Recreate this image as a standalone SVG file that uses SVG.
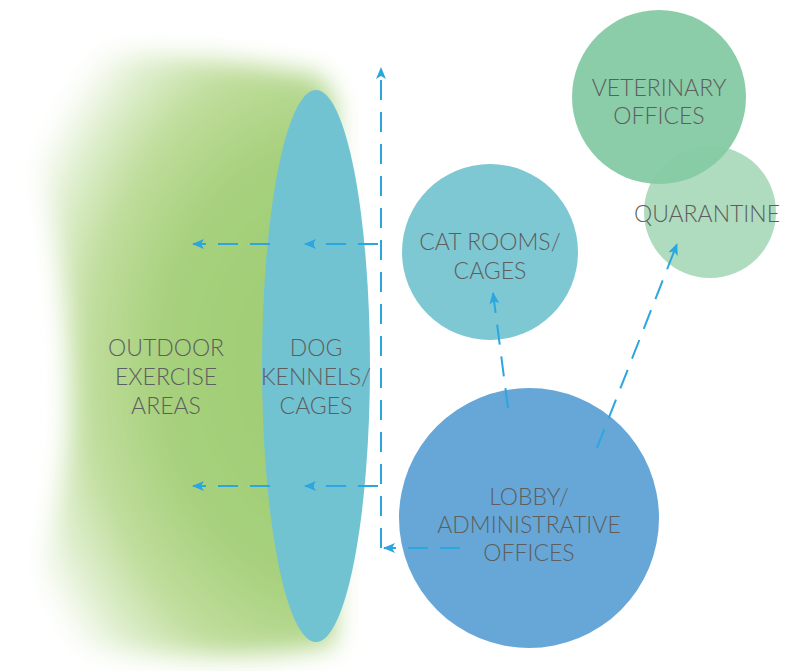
<svg xmlns="http://www.w3.org/2000/svg" width="788" height="671" viewBox="0 0 788 671">
<defs>
<style>
.lbl{font-family:Lato,"Liberation Sans",sans-serif;font-weight:300;font-size:23px;fill:#5e5e5e;text-anchor:middle}
.conn{fill:none;stroke:#2ba6df;stroke-width:2;stroke-dasharray:20 12}
</style>
<radialGradient id="gr" gradientUnits="userSpaceOnUse" cx="330" cy="365" r="335" gradientTransform="translate(330 365) scale(1 1.3) translate(-330 -365)">
<stop offset="0" stop-color="#a0cd74"/>
<stop offset="0.5" stop-color="#a6d07c"/>
<stop offset="0.72" stop-color="#bfdd9b"/>
<stop offset="0.88" stop-color="#e0efd0"/>
<stop offset="1" stop-color="#ffffff"/>
</radialGradient>
<filter id="blur" x="-20%" y="-20%" width="140%" height="140%"><feGaussianBlur stdDeviation="12"/></filter>
<marker id="ah" viewBox="0 0 12 10" refX="11" refY="5" markerWidth="12" markerHeight="10" markerUnits="userSpaceOnUse" orient="auto">
<path d="M0,0 L12,5 L0,10 L3,5 z" fill="#2ba6df"/>
</marker>
</defs>
<rect width="788" height="671" fill="#fff"/>
<g id="outdoor">
<path d="M10,60 C100,45 200,55 320,75 L335,100 L335,645 C230,665 120,655 15,640 C45,570 70,480 70,400 C70,320 60,250 45,190 C30,140 20,100 10,60 Z" fill="url(#gr)" filter="url(#blur)"/>
<text class="lbl" x="166" y="356">OUTDOOR</text>
<text class="lbl" x="166" y="385">EXERCISE</text>
<text class="lbl" x="166" y="414">AREAS</text>
</g>
<g id="dog">
<ellipse cx="316" cy="366" rx="54" ry="276" fill="#72c3d2"/>
<text class="lbl" x="316" y="356">DOG</text>
<text class="lbl" x="316" y="385">KENNELS/</text>
<text class="lbl" x="316" y="414">CAGES</text>
</g>
<g id="cat">
<circle cx="490" cy="252" r="88" fill="#7ec8d3"/>
<text class="lbl" x="490" y="250">CAT ROOMS/</text>
<text class="lbl" x="490" y="279">CAGES</text>
</g>
<g id="quarantine">
<circle cx="710" cy="212" r="66" fill="#afdcbf"/>
</g>
<g id="vet">
<circle cx="659" cy="97" r="87" fill="#85caa3" fill-opacity="0.95"/>
<text class="lbl" x="659" y="96">VETERINARY</text>
<text class="lbl" x="659" y="124">OFFICES</text>
</g>
<text class="lbl" x="707" y="222">QUARANTINE</text>
<g id="lobby">
<circle cx="529" cy="518" r="130" fill="#66a7d8"/>
<text class="lbl" x="529" y="505">LOBBY/</text>
<text class="lbl" x="529" y="533">ADMINISTRATIVE</text>
<text class="lbl" x="529" y="561">OFFICES</text>
</g>
<g id="connectors">
<path class="conn" d="M460,548 L384,548" marker-end="url(#ah)"/>
<path class="conn" d="M381,548 L381,68" marker-end="url(#ah)"/>
<path class="conn" d="M378,244 L305,244" marker-end="url(#ah)"/>
<path class="conn" d="M270,244 L193,244" marker-end="url(#ah)"/>
<path class="conn" d="M378,486 L305,486" marker-end="url(#ah)"/>
<path class="conn" d="M270,486 L193,486" marker-end="url(#ah)"/>
<path class="conn" d="M508,408 L493,293" marker-end="url(#ah)"/>
<path class="conn" d="M597,448 L677,244" marker-end="url(#ah)"/>
</g>
</svg>
